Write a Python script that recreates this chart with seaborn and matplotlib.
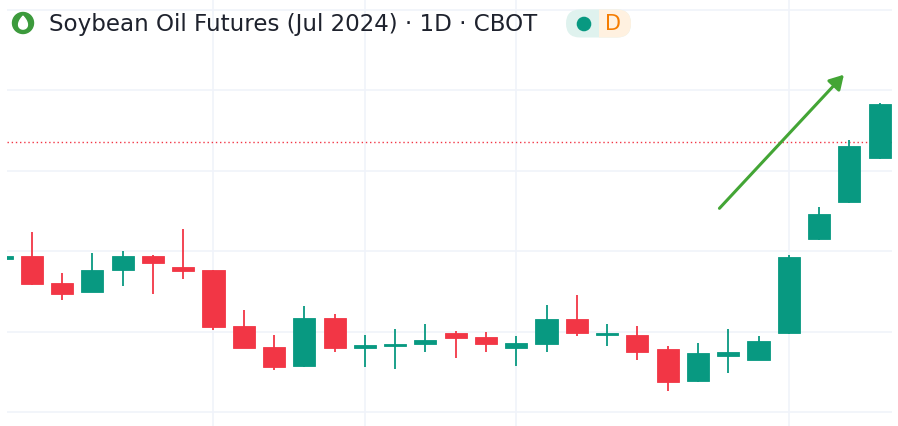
import matplotlib
matplotlib.use("Agg")
import matplotlib.pyplot as plt
import matplotlib.patches as mpatches
import matplotlib.transforms as mtransforms
import numpy as np
import pandas as pd
import seaborn as sns

# daily candles, Soybean Oil Futures (Jul 2024)
opens = [44.90, 44.94, 44.60, 44.49, 44.76, 44.94, 44.80, 44.76, 44.07, 43.81,
         43.57, 44.17, 43.79, 43.82, 43.84, 43.98, 43.93, 43.80, 43.85, 44.16,
         43.96, 43.96, 43.78, 43.39, 43.69, 43.65, 43.98, 45.15, 45.61, 46.16]
highs = [44.95, 45.24, 44.73, 44.97, 45.00, 44.95, 45.27, 44.76, 44.27, 43.96,
         44.32, 44.22, 43.96, 44.03, 44.09, 44.01, 43.99, 43.94, 44.33, 44.45,
         44.09, 44.07, 43.82, 43.86, 44.03, 43.94, 44.95, 45.55, 46.38, 46.84]
lows = [44.89, 44.58, 44.39, 44.49, 44.57, 44.46, 44.65, 44.02, 43.79, 43.52,
        43.56, 43.75, 43.56, 43.54, 43.74, 43.67, 43.74, 43.57, 43.74, 43.94,
        43.82, 43.64, 43.26, 43.37, 43.49, 43.64, 43.97, 45.14, 45.60, 46.14]
closes = [44.94, 44.59, 44.47, 44.76, 44.94, 44.85, 44.75, 44.06, 43.80, 43.56,
          44.17, 43.80, 43.83, 43.84, 43.90, 43.92, 43.84, 43.86, 44.16, 43.98,
          43.98, 43.74, 43.37, 43.73, 43.75, 43.88, 44.92, 45.46, 46.30, 46.83]

price_line = 46.35
grid_prices = [43, 44, 45, 46, 47, 48]
grid_bars = [7, 12, 17, 26]
arrow_x = [23.71, 27.82]
arrow_y = [45.53, 47.19]

title = "Soybean Oil Futures (Jul 2024) \u00b7 1D \u00b7 CBOT"

UP = "#089981"
DOWN = "#f23645"

df = pd.DataFrame({"open": opens, "high": highs, "low": lows, "close": closes})
df["bar"] = np.arange(len(df))
df["up"] = df["close"] >= df["open"]
df["color"] = np.where(df["up"], UP, DOWN)
df["bottom"] = df[["open", "close"]].min(axis=1)
df["height"] = (df["open"] - df["close"]).abs().clip(lower=0.012)

sns.set_theme(style="white")
plt.rcParams["font.family"] = ["DejaVu Sans"]

W, H = 898, 426
fig = plt.figure(figsize=(W / 100, H / 100), dpi=100)
fig.patch.set_facecolor("white")
ax = fig.add_axes([7 / W, 0, 885 / W, 1])

step = 30.28
ax.set_xlim((7 - 1.5) / step, (892 - 1.5) / step)
ax.set_ylim(43 + (412 - 426) / 80.5, 43 + 412 / 80.5)

ax.set_yticks(grid_prices)
ax.set_xticks(grid_bars)
ax.set_xticklabels([])
ax.set_yticklabels([])
ax.tick_params(length=0)
ax.grid(True, color="#f0f3fa", lw=1.2)
ax.set_axisbelow(True)
for s in ax.spines.values():
    s.set_visible(False)

# wicks and bodies
ax.vlines(df["bar"], df["low"], df["high"], colors=df["color"], lw=1.3, zorder=2)
ax.bar(df["bar"], df["height"], bottom=df["bottom"], width=0.73,
       color=df["color"], edgecolor=df["color"], lw=0.6, zorder=3)

ax.axhline(price_line, color=DOWN, lw=1, ls=(0, (1, 2)), zorder=1)

ax.annotate("", xy=(arrow_x[1], arrow_y[1]), xytext=(arrow_x[0], arrow_y[0]),
            arrowprops=dict(arrowstyle="-|>,head_length=0.6,head_width=0.35",
                            color="#43a535", lw=2.2, mutation_scale=14,
                            shrinkA=0, shrinkB=0), zorder=4)

# header: icon, title, badge (pixel coordinates, y from top)
px = mtransforms.IdentityTransform()


def py(y):
    return H - y


fig.add_artist(mpatches.Circle((23, py(23)), 10.5, color="#3c9a3c", transform=px))
# teardrop: point on top, round at the bottom
theta = np.linspace(0, 2 * np.pi, 80)
dx = 23 + 5.6 * np.sin(theta) * np.sin(theta / 2) ** 0.9
dy = py(16.3) - 12.8 * np.sin(theta / 2) ** 2
fig.add_artist(mpatches.Polygon(np.column_stack([dx, dy]), closed=True,
                                color="white", transform=px))

tt = fig.text(49 / W, 1 - 25 / H, title, fontsize=15, color="#1e222d",
              va="center", ha="left")
fig.canvas.draw()
tw = tt.get_window_extent().width
tt.set_fontsize(15 * 488 / tw)

pill_l, pill_r, pill_t, pill_b = 566, 631, 9.5, 37.5
ph = pill_b - pill_t
teal_pill = mpatches.FancyBboxPatch((pill_l + ph / 2, py(pill_b) + ph / 2),
                                    pill_r - pill_l - ph, 0,
                                    boxstyle=f"round,pad={ph / 2},rounding_size={ph / 2}",
                                    transform=px, facecolor="#dff2ee", edgecolor="none")
fig.add_artist(teal_pill)
orange_pill = mpatches.FancyBboxPatch((pill_l + ph / 2, py(pill_b) + ph / 2),
                                      pill_r - pill_l - ph, 0,
                                      boxstyle=f"round,pad={ph / 2},rounding_size={ph / 2}",
                                      transform=px, facecolor="#fff1e0", edgecolor="none")
fig.add_artist(orange_pill)
orange_pill.set_clip_path(mpatches.Rectangle((598.5, 0), 200, H, transform=px))
fig.add_artist(mpatches.Circle((584, py(24)), 6.6, color=UP, transform=px))
fig.text(613 / W, 1 - 24.5 / H, "D", fontsize=15, color="#f57c00",
         va="center", ha="center")

fig.savefig("out.png", dpi=100, facecolor="white")
